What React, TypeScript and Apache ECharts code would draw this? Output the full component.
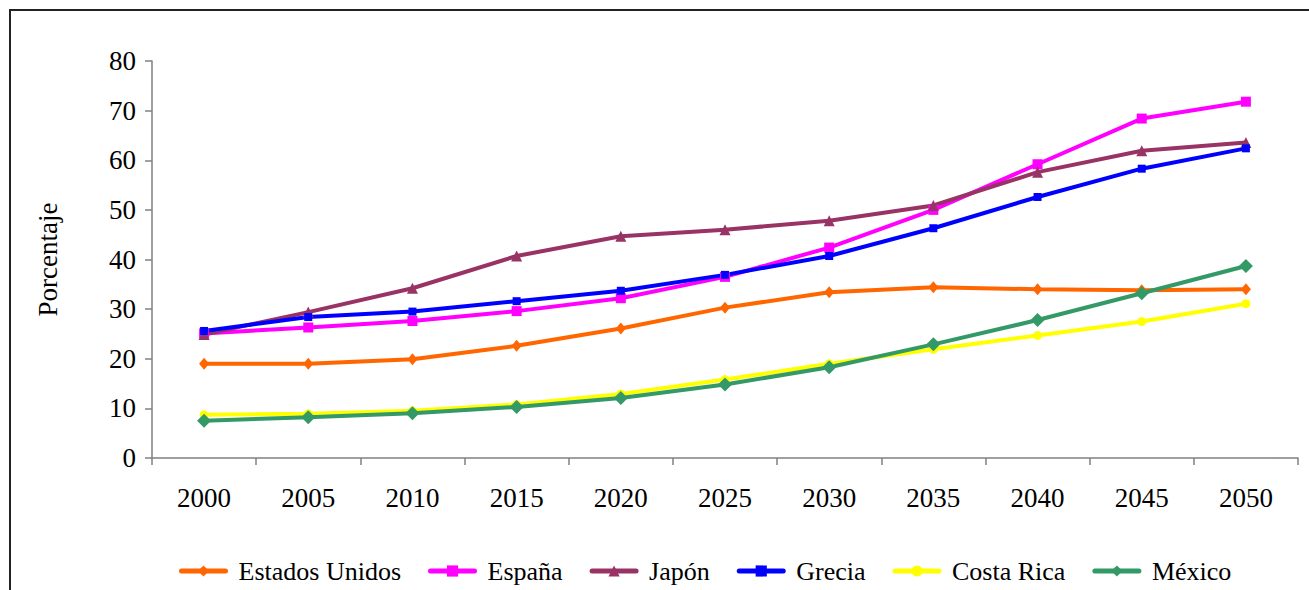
import React, { useEffect, useRef } from "react";
import * as echarts from "echarts";

const years = ["2000", "2005", "2010", "2015", "2020", "2025", "2030", "2035", "2040", "2045", "2050"];
const estadosUnidos = [19.0, 19.0, 19.9, 22.6, 26.1, 30.3, 33.4, 34.4, 34.0, 33.8, 34.0];
const espana = [25.1, 26.3, 27.6, 29.6, 32.2, 36.5, 42.4, 50.0, 59.2, 68.4, 71.8];
const japon = [24.9, 29.4, 34.2, 40.7, 44.7, 46.0, 47.8, 50.9, 57.6, 61.9, 63.6];
const grecia = [25.6, 28.4, 29.5, 31.6, 33.7, 36.9, 40.7, 46.3, 52.6, 58.3, 62.4];
const costaRica = [8.7, 8.9, 9.5, 10.8, 12.9, 15.8, 19.0, 21.9, 24.7, 27.5, 31.1];
const mexico = [7.5, 8.2, 9.0, 10.3, 12.1, 14.8, 18.3, 22.9, 27.8, 33.2, 38.7];

const seriesDefs = [
  { name: "Estados Unidos", data: estadosUnidos, color: "#FF6600", symbol: "diamond", size: [10, 12] },
  { name: "España", data: espana, color: "#FF00FF", symbol: "rect", size: 10 },
  { name: "Japón", data: japon, color: "#993366", symbol: "triangle", size: 11 },
  { name: "Grecia", data: grecia, color: "#0000FF", symbol: "rect", size: 8 },
  { name: "Costa Rica", data: costaRica, color: "#FFFF00", symbol: "circle", size: 9 },
  { name: "México", data: mexico, color: "#339966", symbol: "diamond", size: 14 },
];

const FONT = "'Liberation Serif', 'Times New Roman', serif";

export default function App() {
  const ref = useRef<HTMLDivElement>(null);
  useEffect(() => {
    document.body.style.margin = "0";
    const chart = echarts.init(ref.current!, null, { renderer: "svg" });
    chart.setOption({
      animation: false,
      backgroundColor: "#ffffff",
      textStyle: { fontFamily: FONT, color: "#000" },
      graphic: [
        {
          type: "rect",
          shape: { x: 10, y: 10, width: 1340, height: 640 },
          style: { fill: "none", stroke: "#222", lineWidth: 2 },
          silent: true,
        },
      ],
      grid: { left: 152, right: 11, top: 61, bottom: 132, containLabel: false },
      xAxis: {
        type: "category",
        data: years,
        boundaryGap: true,
        axisLine: { lineStyle: { color: "#808080", width: 1.5 } },
        axisTick: { show: true, length: 7, inside: false, alignWithLabel: false, lineStyle: { color: "#808080", width: 1.5 } },
        axisLabel: { color: "#000", fontFamily: FONT, fontSize: 27, margin: 26 },
      },
      yAxis: {
        type: "value",
        min: 0,
        max: 80,
        interval: 10,
        name: "Porcentaje",
        nameLocation: "middle",
        nameGap: 91,
        nameRotate: 90,
        nameTextStyle: { color: "#000", fontFamily: FONT, fontSize: 27, padding: [0, 0, 0, 0] },
        axisLine: { show: true, lineStyle: { color: "#808080", width: 1.5 } },
        axisTick: { show: true, length: 7, lineStyle: { color: "#808080", width: 1.5 } },
        axisLabel: { color: "#000", fontFamily: FONT, fontSize: 27, margin: 16 },
        splitLine: { show: false },
      },
      legend: {
        left: 174,
        top: 553,
        itemWidth: 44,
        itemHeight: 14,
        itemGap: 27,
        lineStyle: { width: 5, cap: "round" },
        textStyle: { color: "#000", fontFamily: FONT, fontSize: 26, padding: [0, 0, 0, 8] },
        data: seriesDefs.map((s) => ({ name: s.name, lineStyle: { width: 5, cap: "round" } })),
      },
      series: seriesDefs.map((s) => ({
        name: s.name,
        type: "line",
        data: s.data,
        symbol: s.symbol,
        symbolSize: s.size,
        showAllSymbol: true,
        color: s.color,
        lineStyle: { color: s.color, width: 4 },
        itemStyle: { color: s.color, borderWidth: 0 },
      })),
    });
    return () => chart.dispose();
  }, []);
  return <div ref={ref} style={{ width: 1309, height: 590 }} />;
}
